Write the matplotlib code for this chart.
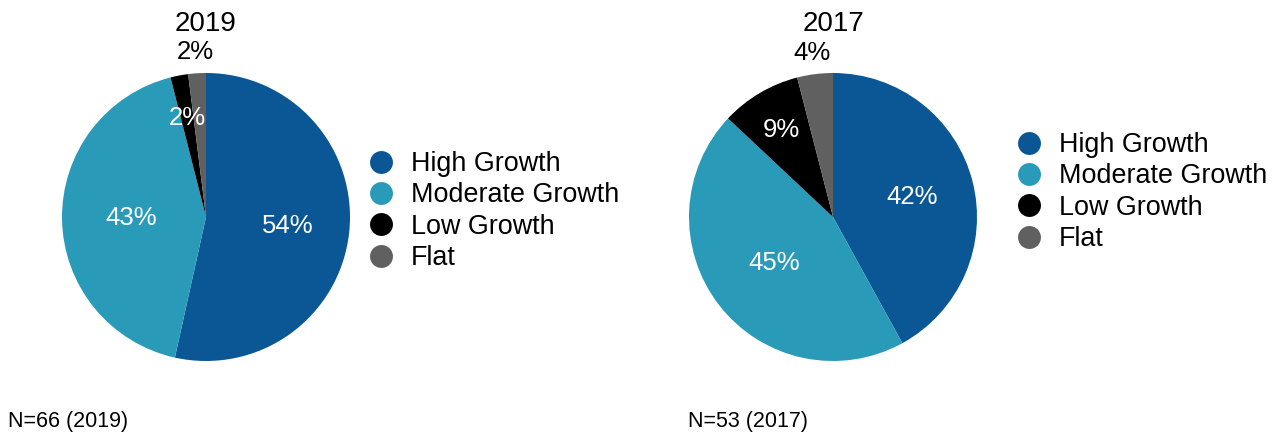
import matplotlib
matplotlib.use('Agg')
import matplotlib.pyplot as plt
from matplotlib.lines import Line2D
import numpy as np

plt.rcParams['font.family'] = ['Liberation Sans', 'DejaVu Sans']

categories = ['High Growth', 'Moderate Growth', 'Low Growth', 'Flat']
colors = ['#0b5795', '#2a9ab9', '#000000', '#606060']

share_2019 = [54, 43, 2, 2]
share_2017 = [42, 45, 9, 4]
n_2019 = 66
n_2017 = 53

# label radius and colour for each slice
label_dist = [0.57, 0.52, 0.70, 1.15]
label_color = ['white', 'white', 'white', 'black']

W, H = 1278, 436
fig = plt.figure(figsize=(W / 100, H / 100), dpi=100)


def pie_axes(cx, cy, r):
    return fig.add_axes([(cx - r) / W, (H - cy - r) / H, 2 * r / W, 2 * r / H])


def draw_pie(ax, values, title):
    wedges, _ = ax.pie(values, colors=colors, startangle=90, counterclock=False,
                       radius=1, wedgeprops=dict(linewidth=0))
    for w, v, d, c in zip(wedges, values, label_dist, label_color):
        mid = np.deg2rad((w.theta1 + w.theta2) / 2)
        ax.text(d * np.cos(mid), d * np.sin(mid), f'{v}%', color=c,
                fontsize=18.5, ha='center', va='center')
    ax.set_xlim(-1, 1)
    ax.set_ylim(-1, 1)
    ax.set_aspect('equal')
    ax.text(0.5, 1 + 49 / 288, title, transform=ax.transAxes, fontsize=20,
            ha='center', va='center')


ax1 = pie_axes(206, 217, 144)
draw_pie(ax1, share_2019, '2019')
ax2 = pie_axes(833, 217, 144)
draw_pie(ax2, share_2017, '2017')

handles = [Line2D([], [], marker='o', linestyle='none', markersize=16.5,
                  markerfacecolor=c, markeredgewidth=0) for c in colors]
legend_kw = dict(loc='upper left', frameon=False, fontsize=19.4, borderpad=0,
                 borderaxespad=0, handletextpad=0.61, labelspacing=0.2,
                 handlelength=1.0)
fig.legend(handles, categories, bbox_to_anchor=(367.5 / W, 1 - 151 / H), **legend_kw)
fig.legend(handles, categories, bbox_to_anchor=(1015.5 / W, 1 - 132 / H), **legend_kw)

fig.text(8 / W, 1 - 421 / H, f'N={n_2019} (2019)', fontsize=15.5, va='center')
fig.text(688 / W, 1 - 421 / H, f'N={n_2017} (2017)', fontsize=15.5, va='center')

fig.savefig('out.png', dpi=100)
